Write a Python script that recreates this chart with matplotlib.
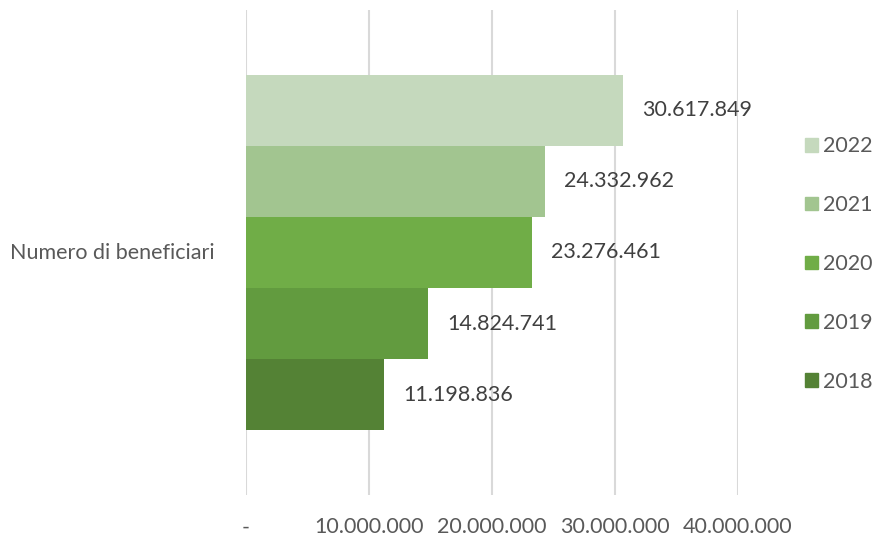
import numpy as np
import matplotlib.pyplot as plt
from matplotlib.patches import Patch

category = "Numero di beneficiari"
years = ["2018", "2019", "2020", "2021", "2022"]
values = [11198836, 14824741, 23276461, 24332962, 30617849]
colors = ["#548235", "#629B3F", "#70AD47", "#A2C590", "#C5D9BD"]
xticks = [0, 10000000, 20000000, 30000000, 40000000]

def fmt_it(v):
    if v == 0:
        return "-"
    return "{:,}".format(v).replace(",", ".")

plt.rcParams['font.family'] = ['Lato', 'DejaVu Sans']
fs = 15.5

fig = plt.figure(figsize=(8.77, 5.39), dpi=100)
ax = fig.add_axes([246/877, 44/539, 492/877, 485/539])

group = 0.734
w = group / len(years)
for i, (yr, v, c) in enumerate(zip(years, values, colors)):
    y = -group/2 + w*(i + 0.5)
    ax.barh(y, v, height=w, color=c, zorder=2)
    ax.text(v + 1550000, y, fmt_it(v), va='center', ha='left',
            fontsize=fs, color='#404040')

ax.set_xlim(0, 40000000)
ax.set_ylim(-0.5, 0.5)
ax.set_xticks(xticks)
ax.set_xticklabels([fmt_it(t) for t in xticks], fontsize=fs, color='#595959')
ax.tick_params(axis='x', length=0, pad=16)
ax.get_xticklabels()[0].set_x(400000)
ax.set_yticks([])
ax.grid(axis='x', color='#D9D9D9', linewidth=1.5, zorder=0)
for s in ax.spines.values():
    s.set_visible(False)

fig.text(10/877, 1 - 253/539, category, ha='left', va='center',
         fontsize=fs, color='#595959')

handles = [Patch(color=c, label=yr) for yr, c in zip(years, colors)][::-1]
fig.legend(handles=handles, loc='center left', bbox_to_anchor=(805/877, 1 - 264/539),
           frameon=False, fontsize=fs, handlelength=0.6, handleheight=0.6,
           handletextpad=0.25, labelspacing=1.8, borderpad=0, borderaxespad=0,
           labelcolor='#595959')

fig.savefig("out.png", dpi=100)
